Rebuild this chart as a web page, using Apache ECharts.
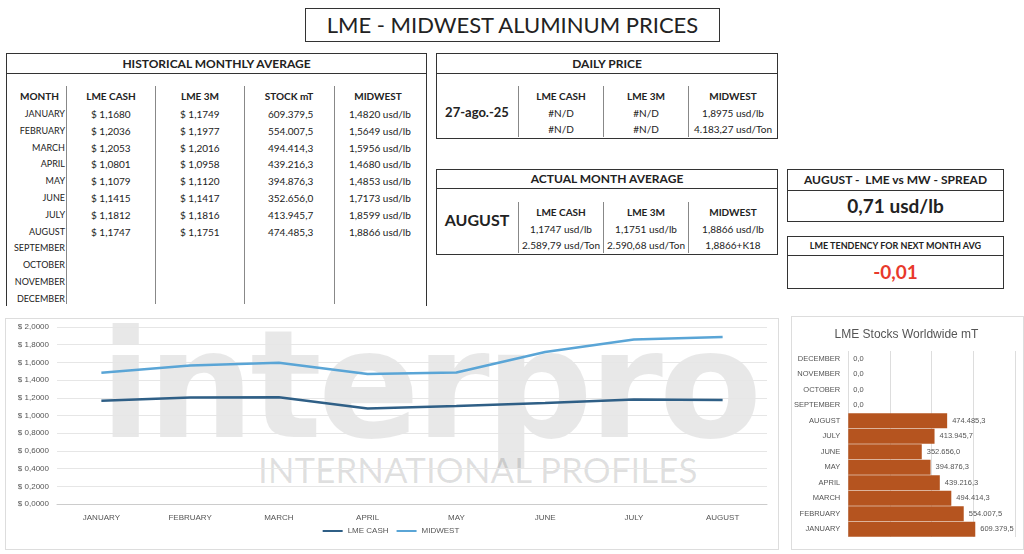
<!DOCTYPE html>
<html><head><meta charset="utf-8">
<script src="https://cdn.jsdelivr.net/npm/echarts@6/dist/echarts.min.js"></script>
<style>
body{margin:0;width:1024px;height:554px;background:#fff;font-family:Lato,"Open Sans",sans-serif;position:relative;overflow:hidden;color:#222}
.box{position:absolute;border:1px solid #333;background:transparent}
.hd{position:absolute;left:0;right:0;top:0;border-bottom:1px solid #333;text-align:center;font-weight:bold}
.t{position:absolute;font-size:10px;white-space:nowrap}
.vl{position:absolute;width:1px;background:#888}
#wm{position:absolute;left:100px;top:310px;font-size:150px;font-weight:900;color:rgba(0,0,0,0.09);letter-spacing:-4px;font-family:"DejaVu Sans";line-height:150px}
#wm2{position:absolute;left:258px;top:448px;font-size:35px;color:rgba(0,0,0,0.12);letter-spacing:0px}
</style></head><body>
<div class="box" style="left:305px;top:8px;width:413px;height:32px;text-align:center;font-size:22px;line-height:32px">LME - MIDWEST ALUMINUM PRICES</div>

<div class="box" style="left:6px;top:53px;width:419px;height:252px;border-bottom:none"><div class="hd" style="height:19px;line-height:19px;font-size:12px">HISTORICAL MONTHLY AVERAGE</div></div>
<div id="hist"></div>

<div class="box" style="left:436px;top:53px;width:340px;height:84px"><div class="hd" style="height:19px;line-height:19px;font-size:12px">DAILY PRICE</div></div>
<div class="box" style="left:436px;top:169px;width:340px;height:84px"><div class="hd" style="height:18px;line-height:18px;font-size:12px">ACTUAL MONTH AVERAGE</div></div>
<div class="box" style="left:787px;top:169px;width:215px;height:51px"><div class="hd" style="height:20px;line-height:20px;font-size:12px">AUGUST -&nbsp; LME vs MW - SPREAD</div><div style="position:absolute;top:20px;width:100%;text-align:center;font-size:19px;font-weight:bold;line-height:31px">0,71 usd/lb</div></div>
<div class="box" style="left:787px;top:236px;width:215px;height:51px"><div class="hd" style="height:18px;line-height:18px;font-size:9px">LME TENDENCY FOR NEXT MONTH AVG</div><div style="position:absolute;top:18px;width:100%;text-align:center;font-size:19px;font-weight:bold;color:#e8392b;line-height:33px">-0,01</div></div>
<div id="other"></div>

<div style="position:absolute;left:5px;top:318px;width:772px;height:230px;border:1px solid #ddd"></div>
<div id="wm">interpro</div>
<div id="wm2">INTERNATIONAL PROFILES</div>
<div id="line" style="position:absolute;left:5px;top:318px;width:772px;height:230px"></div>
<div style="position:absolute;left:791px;top:316px;width:231px;height:232px;border:1px solid #ddd"></div>
<div id="bar" style="position:absolute;left:791px;top:316px;width:231px;height:232px"></div>

<script>
const months=["JANUARY","FEBRUARY","MARCH","APRIL","MAY","JUNE","JULY","AUGUST","SEPTEMBER","OCTOBER","NOVEMBER","DECEMBER"];
const lmeCash=[1.1680,1.2036,1.2053,1.0801,1.1079,1.1415,1.1812,1.1747];
const lme3m=[1.1749,1.1977,1.2016,1.0958,1.1120,1.1417,1.1816,1.1751];
const stock=[609379.5,554007.5,494414.3,439216.3,394876.3,352656.0,413945.7,474485.3,0,0,0,0];
const midwest=[1.4820,1.5649,1.5956,1.4680,1.4853,1.7173,1.8599,1.8866];
const yTicks=["$ 0,0000","$ 0,2000","$ 0,4000","$ 0,6000","$ 0,8000","$ 1,0000","$ 1,2000","$ 1,4000","$ 1,6000","$ 1,8000","$ 2,0000"];

function fmt(v,d){let s=v.toFixed(d).split('.');s[0]=s[0].replace(/\B(?=(\d{3})+(?!\d))/g,'.');return s.join(',');}
function T(x,y,txt,extra,align){const w=align==='c'?`transform:translateX(-50%);`:align==='r'?`transform:translateX(-100%);`:'';return `<div class="t" style="left:${x}px;top:${y}px;${w}${extra||''}">${txt}</div>`;}
let h='';
h+=T(20,90,'MONTH','font-weight:bold')+T(111,90,'LME CASH','font-weight:bold','c')+T(200,90,'LME 3M','font-weight:bold','c')+T(289,90,'STOCK mT','font-weight:bold','c')+T(378,90,'MIDWEST','font-weight:bold','c');
[66,155,244,334].forEach(x=>h+=`<div class="vl" style="left:${x}px;top:86px;height:218px"></div>`);
months.forEach((m,i)=>{const y=108+i*16.8;h+=T(65,y,m,'font-size:9px','r');
 if(i<8){h+=T(91,y,'$ '+fmt(lmeCash[i],4))+T(180,y,'$ '+fmt(lme3m[i],4))+T(268,y,fmt(stock[i],1))+T(349,y,fmt(midwest[i],4)+' usd/lb');}});
document.getElementById('hist').innerHTML=h;
let o='';
[518,603,688].forEach(x=>{o+=`<div class="vl" style="left:${x}px;top:86px;height:51px"></div><div class="vl" style="left:${x}px;top:202px;height:51px"></div>`;});
o+=T(477,104,'27-ago.-25','font-size:13px;font-weight:bold','c');
o+=T(561,90,'LME CASH','font-weight:bold','c')+T(646,90,'LME 3M','font-weight:bold','c')+T(733,90,'MIDWEST','font-weight:bold','c');
o+=T(561,107,'#N/D','','c')+T(646,107,'#N/D','','c')+T(733,107,'1,8975 usd/lb','','c');
o+=T(561,123,'#N/D','','c')+T(646,123,'#N/D','','c')+T(733,123,'4.183,27 usd/Ton','','c');
o+=T(477,210,'AUGUST','font-size:16px;font-weight:bold','c');
o+=T(561,206,'LME CASH','font-weight:bold','c')+T(646,206,'LME 3M','font-weight:bold','c')+T(733,206,'MIDWEST','font-weight:bold','c');
o+=T(561,223,'1,1747 usd/lb','','c')+T(646,223,'1,1751 usd/lb','','c')+T(733,223,'1,8866 usd/lb','','c');
o+=T(561,239,'2.589,79 usd/Ton','','c')+T(646,239,'2.590,68 usd/Ton','','c')+T(733,239,'1,8866+K18','','c');
document.getElementById('other').innerHTML=o;

const lc=echarts.init(document.getElementById('line'));
lc.setOption({animation:false,
 grid:{left:52,right:10,top:9,bottom:44},
 legend:{bottom:8,itemWidth:20,itemHeight:2,icon:'rect',textStyle:{fontSize:8,color:'#555'},data:['LME CASH','MIDWEST']},
 xAxis:{type:'category',data:months.slice(0,8),axisLine:{lineStyle:{color:'#ccc'}},axisTick:{show:false},axisLabel:{fontSize:8,color:'#555',margin:10}},
 yAxis:{type:'value',min:0,max:2,interval:0.2,axisLabel:{fontSize:8,color:'#555',formatter:(v)=>yTicks[Math.round(v/0.2)]},splitLine:{lineStyle:{color:'#e6e6e6'}}},
 series:[{name:'LME CASH',type:'line',data:lmeCash,symbol:'none',lineStyle:{width:2.5,color:'#2f5f86'},itemStyle:{color:'#2f5f86'}},
 {name:'MIDWEST',type:'line',data:midwest,symbol:'none',lineStyle:{width:2.5,color:'#5aa5d6'},itemStyle:{color:'#5aa5d6'}}]});

const bc=echarts.init(document.getElementById('bar'));
bc.setOption({animation:false,
 title:{text:'LME Stocks Worldwide mT',left:'center',top:8,textStyle:{fontSize:12,fontWeight:'normal',color:'#555'}},
 grid:{left:57,right:7,top:35,bottom:11},
 xAxis:{type:'value',min:0,max:800000,interval:200000,axisLabel:{show:false},splitLine:{lineStyle:{color:'#ddd'}}},
 yAxis:{type:'category',data:months,axisLine:{show:false},axisTick:{show:false},axisLabel:{fontSize:7.5,color:'#555'}},
 series:[{type:'bar',data:stock,barCategoryGap:'2%',itemStyle:{color:'#b5541f',borderColor:'#7a3511',borderWidth:0},
 label:{show:true,position:'right',fontSize:7.5,color:'#555',formatter:p=>fmt(p.value,1)}}]});
</script></body></html>
